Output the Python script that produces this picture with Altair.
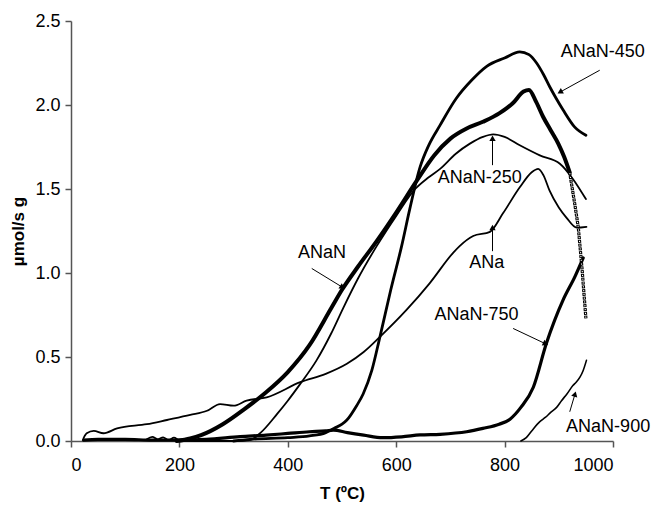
import altair as alt
import pandas as pd
import math

# ---- series: temperature (°C) and rate (µmol/s g) ----
anan_T = [195, 220, 240, 280, 320, 360, 400, 440, 480, 500, 530, 564, 600, 638, 670,
          700, 730, 760, 790, 815, 835, 845, 858, 871, 885, 899, 910, 920]
anan_v = [0.0, 0.015, 0.035, 0.10, 0.19, 0.29, 0.41, 0.57, 0.79, 0.90, 1.04, 1.19, 1.36,
          1.55, 1.70, 1.80, 1.86, 1.90, 1.95, 2.01, 2.08, 2.09, 2.02, 1.93, 1.85, 1.77, 1.69, 1.60]

# sparse-sampled end of the ANaN run (drawn as a chain of open squares)
anan_tail_T = [920, 930, 936, 943, 950]
anan_tail_v = [1.60, 1.40, 1.27, 1.02, 0.73]

anan450_T = [300, 330, 400, 440, 470, 485, 500, 509, 527, 539, 555, 570, 590, 610, 625,
             644, 660, 681, 711, 740, 767, 800, 828, 845, 859, 872, 883, 895, 908, 929, 950]
anan450_v = [0.0, 0.01, 0.02, 0.03, 0.05, 0.075, 0.10, 0.125, 0.21, 0.28, 0.42, 0.62, 0.90,
             1.16, 1.38, 1.63, 1.76, 1.88, 2.04, 2.15, 2.23, 2.28, 2.316, 2.30, 2.25, 2.18,
             2.11, 2.04, 1.97, 1.87, 1.82]

anan250_T = [140, 150, 160, 170, 180, 190, 200, 230, 300, 330, 350, 380, 400, 423, 453,
             480, 502, 530, 564, 600, 635, 660, 681, 710, 736, 760, 779, 800, 828, 865,
             902, 926, 950]
anan250_v = [0.01, 0.025, 0.01, 0.022, 0.005, 0.02, 0.005, 0.0, 0.0, 0.005, 0.05, 0.16,
             0.24, 0.34, 0.48, 0.64, 0.79, 0.97, 1.16, 1.34, 1.50, 1.57, 1.62, 1.71, 1.77,
             1.81, 1.825, 1.81, 1.76, 1.70, 1.65, 1.56, 1.44]

ana_T = [23, 29, 42, 60, 85, 140, 177, 220, 251, 275, 300, 324, 361, 423, 470, 509, 540,
         570, 619, 662, 705, 717, 742, 773, 797, 828, 850, 862, 872, 883, 900, 914, 933, 951]
ana_v = [0.016, 0.046, 0.06, 0.046, 0.075, 0.10, 0.125, 0.155, 0.18, 0.22, 0.21, 0.24,
         0.26, 0.35, 0.40, 0.46, 0.53, 0.62, 0.78, 0.94, 1.12, 1.16, 1.22, 1.245, 1.355,
         1.51, 1.60, 1.62, 1.58, 1.49, 1.39, 1.33, 1.27, 1.275]

anan750_T = [23, 50, 100, 150, 200, 250, 312, 360, 400, 440, 470, 484, 510, 540, 575,
             610, 644, 681, 730, 760, 790, 810, 830, 853, 877, 908, 930, 945]
anan750_v = [0.005, 0.01, 0.01, 0.005, 0.005, 0.01, 0.026, 0.035, 0.045, 0.055, 0.06,
             0.065, 0.05, 0.035, 0.02, 0.025, 0.036, 0.04, 0.055, 0.075, 0.10, 0.13, 0.20,
             0.32, 0.58, 0.84, 0.98, 1.09]

anan900_T = [830, 840, 850, 865, 875, 885, 896, 905, 915, 926, 932, 939, 945, 951]
anan900_v = [0.0, 0.02, 0.06, 0.115, 0.14, 0.17, 0.20, 0.24, 0.28, 0.33, 0.35, 0.38, 0.42, 0.48]

# ---- labels with arrows (data coordinates) ----
label_text = ["ANaN-450", "ANaN-250", "ANa", "ANaN", "ANaN-750", "ANaN-900"]
label_T = [981, 754, 767, 463, 748, 991]
label_v = [2.314, 1.563, 1.057, 1.117, 0.75, 0.085]
arrow_T0 = [975.5, 777.7, 777.7, 444.2, 815.7, 920.2]
arrow_v0 = [2.207, 1.642, 1.130, 1.027, 0.670, 0.174]
arrow_T1 = [903.6, 777.7, 777.7, 499.4, 874.1, 929.4]
arrow_v1 = [2.079, 1.797, 1.265, 0.918, 0.581, 0.274]

W, H = 542, 420
T_MAX, V_MAX = 1000, 2.5

xs = alt.Scale(domain=[0, T_MAX], nice=False)
ys = alt.Scale(domain=[0, V_MAX], nice=False)

AX_COMMON = dict(grid=False, domainColor="#555", tickColor="#555", domainWidth=1.5,
                 tickWidth=1.5, tickSize=6, labelFont="Liberation Sans", labelFontSize=18,
                 labelColor="black", titleFont="Liberation Sans", titleFontSize=17,
                 titleFontWeight="bold", titleColor="black")

x_axis = alt.Axis(values=[0, 200, 400, 600, 800, 1000], format="d", title="T (ºC)",
                  titleX=W / 2, titleY=52, titleBaseline="middle", labelPadding=9,
                  **AX_COMMON)
y_axis = alt.Axis(values=[0, 0.5, 1.0, 1.5, 2.0, 2.5], format=".1f", title="µmol/s g",
                  titleAngle=-90, titleX=-53, titleY=H / 2,
                  titleBaseline="middle", titleAlign="center", labelPadding=5,
                  **AX_COMMON)


def X(field):
    return alt.X(field, scale=xs, axis=x_axis)


def Y(field):
    return alt.Y(field, scale=ys, axis=y_axis)


def curve(T, v, width):
    df = pd.DataFrame({"T": T, "v": v, "o": range(len(T))})
    return alt.Chart(df).mark_line(color="black", strokeWidth=width,
                                   interpolate="monotone", strokeCap="round",
                                   strokeJoin="round").encode(
        x=X("T:Q"), y=Y("v:Q"), order="o:Q")


layers = [
    curve(ana_T, ana_v, 1.8),
    curve(anan250_T, anan250_v, 1.8),
    curve(anan900_T, anan900_v, 1.6),
    curve(anan450_T, anan450_v, 2.8),
    curve(anan750_T, anan750_v, 3.2),
    curve(anan_T, anan_v, 4.0),
]

tail = pd.DataFrame({"T": anan_tail_T, "v": anan_tail_v})
tail_black = alt.Chart(tail).mark_line(color="black", strokeWidth=3.2,
                                       strokeDash=[3, 0.8]).encode(x=X("T:Q"), y=Y("v:Q"))
tail_white = alt.Chart(tail).mark_line(color="white", strokeWidth=1.1,
                                       strokeDash=[1.2, 2.6], strokeDashOffset=-0.9).encode(
    x=X("T:Q"), y=Y("v:Q"))
layers += [tail_black, tail_white]

# arrow shafts and heads
px_per_T = W / T_MAX
px_per_v = H / V_MAX
angles = []
for t0, v0, t1, v1 in zip(arrow_T0, arrow_v0, arrow_T1, arrow_v1):
    dx = (t1 - t0) * px_per_T
    dy = -(v1 - v0) * px_per_v
    angles.append(math.degrees(math.atan2(dx, -dy)) % 360)

arrows = pd.DataFrame({"T0": arrow_T0, "v0": arrow_v0, "T1": arrow_T1, "v1": arrow_v1,
                       "ang": angles})
shafts = alt.Chart(arrows).mark_rule(color="black", strokeWidth=1).encode(
    x=X("T0:Q"), y=Y("v0:Q"), x2="T1:Q", y2="v1:Q")
heads = alt.Chart(arrows).mark_point(shape="triangle", filled=True, color="black",
                                     size=40, opacity=1).encode(
    x=X("T1:Q"), y=Y("v1:Q"), angle=alt.Angle("ang:Q", scale=None))

labels = pd.DataFrame({"T": label_T, "v": label_v, "text": label_text})
texts = alt.Chart(labels).mark_text(font="Liberation Sans", fontSize=18, color="black",
                                    align="center", baseline="middle").encode(
    x=X("T:Q"), y=Y("v:Q"), text="text:N")

layers += [shafts, heads, texts]

chart = alt.layer(*layers).properties(
    width=W, height=H,
    background="white",
    autosize=alt.AutoSizeParams(type="none"),
    padding={"left": 71, "top": 21, "right": 41, "bottom": 66},
).configure_view(strokeWidth=0)

chart.save("out.html", embed_options={"renderer": "svg", "actions": False})
